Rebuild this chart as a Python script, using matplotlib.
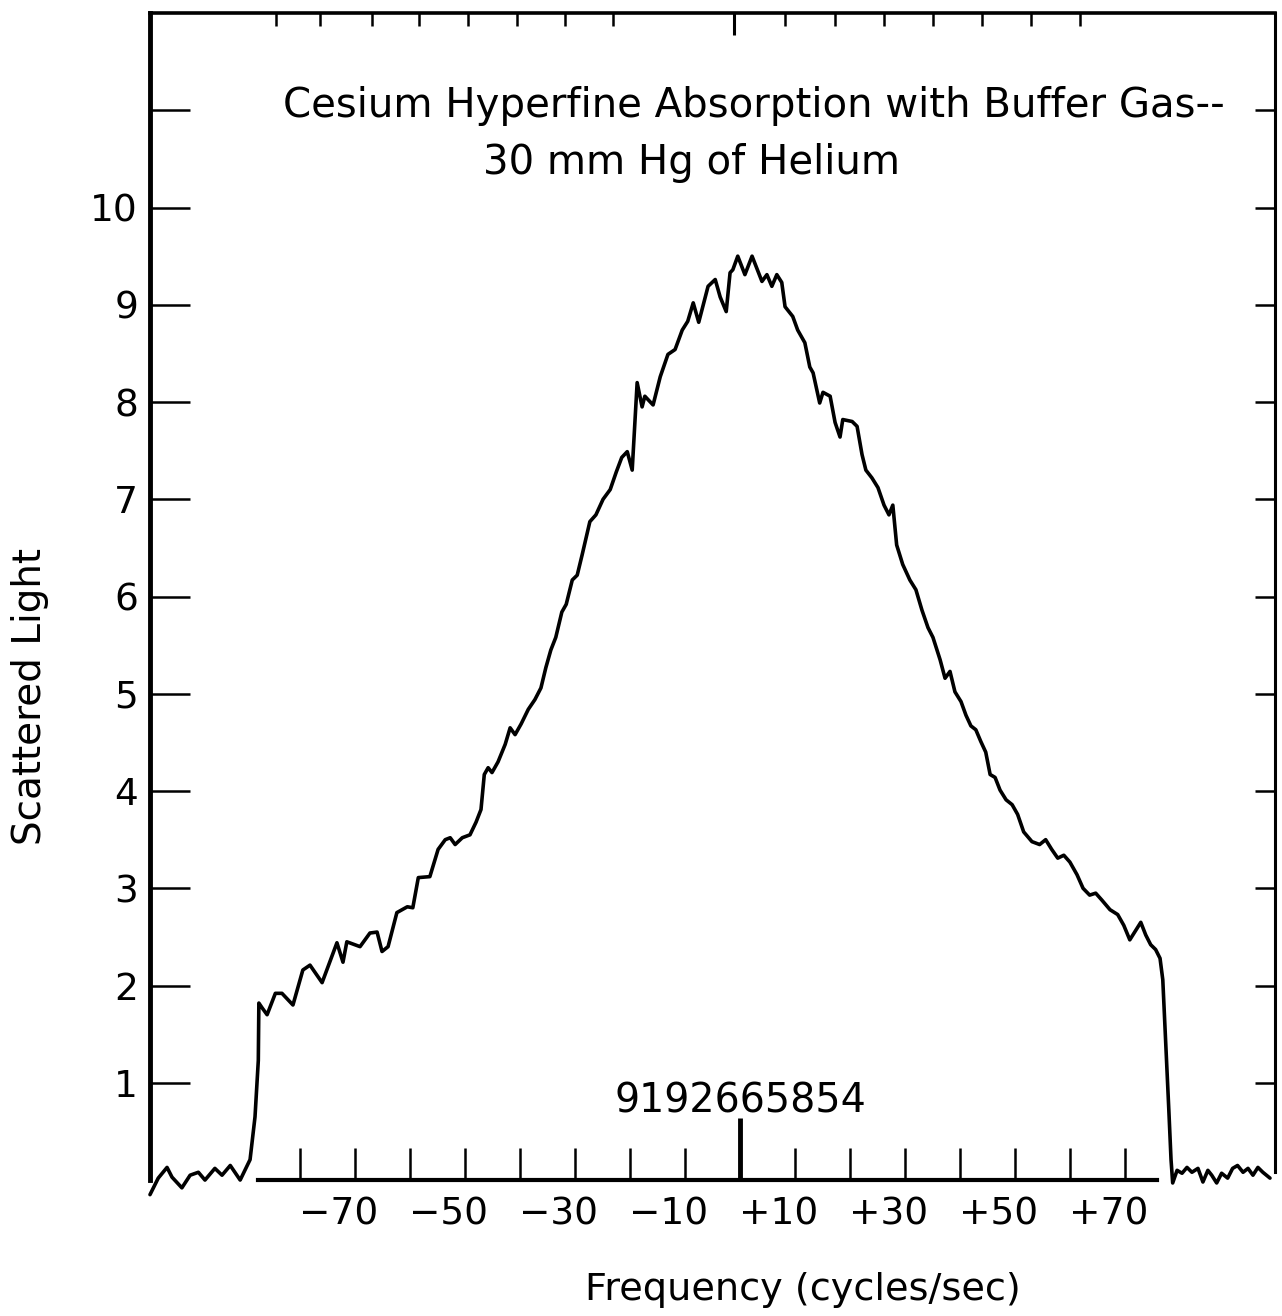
import matplotlib
matplotlib.use('Agg')
import matplotlib.pyplot as plt

# frequency offset (cycles/sec) and scattered light
freq = [-107.3, -105.8, -104.2, -103.3, -101.5, -100.0, -98.5, -97.3, -95.5, -94.2,
        -92.7, -90.9, -89.1, -88.2, -87.6, -87.5, -86.9, -86.0, -84.5, -83.3,
        -81.3, -79.5, -78.2, -76.0, -73.3, -72.2, -71.5, -69.1, -67.3, -66.0,
        -65.1, -64.0, -62.4, -60.5, -59.5, -58.5, -56.4, -54.9, -53.6, -52.7,
        -51.8, -50.5, -49.1, -48.0, -47.1, -46.5, -45.8, -45.1, -44.0, -42.7,
        -41.8, -40.9, -39.8, -38.5, -37.3, -36.2, -35.3, -34.4, -33.5, -32.4,
        -31.6, -30.5, -29.6, -28.7, -27.3, -26.2, -24.9, -23.6, -22.5, -21.5,
        -20.5, -19.6, -18.7, -17.8, -17.3, -15.8, -14.5, -13.1, -11.8, -10.5,
        -9.5, -8.5, -7.5, -5.8, -4.5, -3.6, -2.5, -1.8, -1.3, -0.4,
        0.9, 2.2, 4.0, 4.9, 5.8, 6.7, 7.6, 8.2, 9.6, 10.5,
        11.8, 12.7, 13.3, 14.5, 15.1, 16.4, 17.3, 18.2, 18.7, 20.4,
        21.3, 22.2, 22.9, 24.0, 25.1, 26.2, 27.1, 27.8, 28.5, 29.6,
        30.9, 32.0, 33.1, 34.2, 35.1, 36.4, 37.3, 38.2, 39.1, 40.2,
        41.1, 42.0, 42.9, 43.8, 44.7, 45.5, 46.4, 47.3, 48.4, 49.5,
        50.5, 51.6, 53.1, 54.5, 55.6, 56.7, 57.8, 58.9, 60.0, 61.3,
        62.4, 63.6, 64.7, 65.8, 67.3, 68.7, 69.8, 70.9, 72.0, 72.9,
        73.8, 74.7, 75.6, 76.4, 76.9, 77.5, 78.0, 78.4, 78.7, 79.5,
        80.4, 81.3, 82.2, 83.3, 84.2, 85.1, 85.8, 86.7, 87.6, 88.7,
        89.6, 90.5, 91.5, 92.4, 93.3, 94.2, 95.1, 96.4]
light = [-0.15, 0.02, 0.13, 0.03, -0.08, 0.05, 0.08, 0.00, 0.12, 0.05,
         0.15, 0.00, 0.21, 0.65, 1.23, 1.82, 1.77, 1.70, 1.92, 1.92,
         1.80, 2.16, 2.21, 2.03, 2.44, 2.24, 2.45, 2.40, 2.54, 2.55,
         2.35, 2.40, 2.75, 2.81, 2.80, 3.11, 3.12, 3.40, 3.50, 3.52,
         3.45, 3.52, 3.55, 3.68, 3.81, 4.17, 4.24, 4.19, 4.30, 4.48,
         4.65, 4.58, 4.69, 4.84, 4.94, 5.06, 5.27, 5.45, 5.58, 5.84,
         5.92, 6.17, 6.22, 6.43, 6.77, 6.84, 7.00, 7.10, 7.28, 7.43,
         7.49, 7.30, 8.20, 7.95, 8.06, 7.97, 8.26, 8.49, 8.54, 8.74,
         8.83, 9.02, 8.82, 9.19, 9.26, 9.08, 8.93, 9.33, 9.36, 9.50,
         9.31, 9.50, 9.24, 9.31, 9.19, 9.31, 9.23, 8.98, 8.88, 8.74,
         8.61, 8.36, 8.30, 7.99, 8.10, 8.06, 7.79, 7.64, 7.82, 7.80,
         7.75, 7.46, 7.30, 7.22, 7.12, 6.94, 6.84, 6.94, 6.53, 6.33,
         6.17, 6.07, 5.86, 5.68, 5.58, 5.35, 5.16, 5.23, 5.02, 4.92,
         4.78, 4.67, 4.63, 4.51, 4.40, 4.17, 4.14, 4.01, 3.91, 3.86,
         3.76, 3.58, 3.48, 3.45, 3.50, 3.40, 3.31, 3.34, 3.27, 3.14,
         3.00, 2.93, 2.95, 2.88, 2.78, 2.73, 2.62, 2.47, 2.57, 2.65,
         2.52, 2.42, 2.37, 2.28, 2.06, 1.34, 0.72, 0.21, -0.03, 0.10,
         0.07, 0.13, 0.08, 0.12, -0.02, 0.10, 0.05, -0.03, 0.07, 0.02,
         0.12, 0.15, 0.08, 0.12, 0.05, 0.13, 0.08, 0.02]

y_ticks = list(range(1, 12))
y_labels = [str(v) for v in range(1, 11)] + ['']
x_ticks = [-80, -70, -60, -50, -40, -30, -20, -10, 10, 20, 30, 40, 50, 60, 70]
x_center = [0]
x_label_vals = [-70, -50, -30, -10, 10, 30, 50, 70]
x_label_text = ['\u221270', '\u221250', '\u221230', '\u221210', '+10', '+30', '+50', '+70']
top_ticks = [-84.4, -76.4, -66.9, -58.4, -49.5, -40.5, -31.8, -23.1,
             8.2, 17.3, 26.2, 35.1, 44.0, 52.9, 61.8]
top_center = [-1.1]
center_label = '9192665854'


def graph():
    fig = plt.figure(figsize=(12.82, 13.16), dpi=100)
    ax = fig.add_axes([0.117, 0.1033, 0.8775, 0.8868])

    ax.plot(freq, light, color='black', lw=2.6, clip_on=False,
            solid_joinstyle='round', solid_capstyle='round')

    ax.set_xlim(-107.3, 97.3)
    ax.set_ylim(0, 12)

    # frame
    ax.spines['left'].set_linewidth(3.5)
    ax.spines['top'].set_linewidth(2.6)
    ax.spines['right'].set_linewidth(2.2)
    ax.spines['right'].set_bounds(0.08, 12)
    ax.spines['bottom'].set_linewidth(3.0)
    ax.spines['bottom'].set_bounds(-87.6, 75.8)

    # left ticks
    ax.set_yticks(y_ticks, y_labels)
    ax.tick_params(axis='y', direction='in', length=28.8, width=1.8,
                   pad=8.6, labelsize=27)

    # bottom frequency scale
    ax.set_xticks(x_ticks)
    ax.set_xticks(x_center, minor=True)
    ax.tick_params(axis='x', which='major', direction='in', length=23,
                   width=1.8, labelbottom=False)
    ax.tick_params(axis='x', which='minor', direction='in', length=44.6,
                   width=3.5, labelbottom=False)
    for v, t in zip(x_label_vals, x_label_text):
        ax.annotate(t, xy=(v, 0), xytext=(16.6, -12), textcoords='offset points',
                    ha='right', va='top', fontsize=27)
    ax.text(0, 0.69, center_label, ha='center', va='baseline', fontsize=28.5)

    # right ticks
    sy = ax.secondary_yaxis('right')
    sy.set_yticks(y_ticks)
    sy.tick_params(direction='in', length=14.4, width=1.8, labelright=False)
    sy.spines['right'].set_visible(False)

    # top ticks
    sx = ax.secondary_xaxis('top')
    sx.set_xticks(top_ticks)
    sx.set_xticks(top_center, minor=True)
    sx.tick_params(which='major', direction='in', length=9, width=1.8, labeltop=False)
    sx.tick_params(which='minor', direction='in', length=16, width=2.2, labeltop=False)
    sx.spines['top'].set_visible(False)

    fig.text(0.2207, 0.911, 'Cesium Hyperfine Absorption with Buffer Gas--',
             ha='left', va='baseline', fontsize=29)
    fig.text(0.3768, 0.868, '30 mm Hg of Helium',
             ha='left', va='baseline', fontsize=29)
    fig.text(0.0234, 0.4704, 'Scattered Light', rotation=90,
             ha='center', va='center', fontsize=28)
    fig.text(0.6264, 0.0198, 'Frequency (cycles/sec)',
             ha='center', va='center', fontsize=27.5)

    plt.savefig('out.png', dpi=100)


if __name__ == '__main__':
    graph()
